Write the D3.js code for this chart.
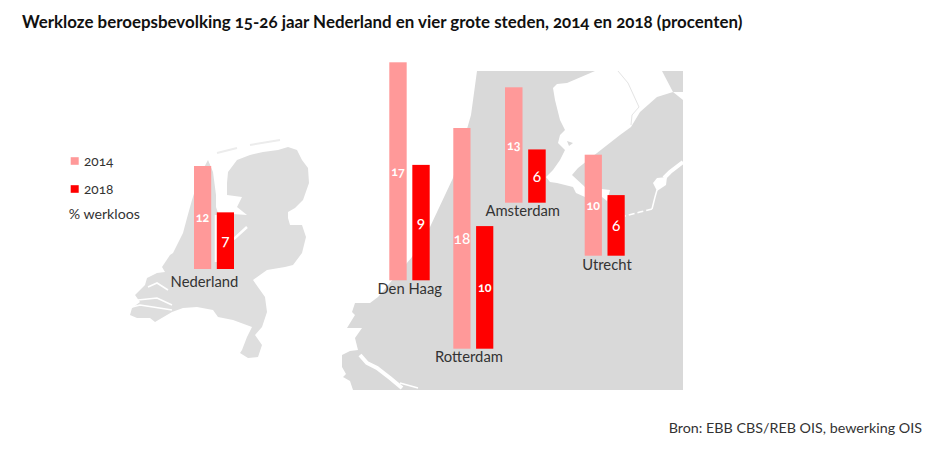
<!DOCTYPE html>
<html>
<head>
<meta charset="utf-8">
<script src="https://cdn.jsdelivr.net/npm/d3@7/dist/d3.min.js"></script>
<style>
html,body{margin:0;padding:0;background:#fff}
svg{display:block}
text{font-family:Lato,"Open Sans",sans-serif;font-variant-numeric:oldstyle-nums}
</style>
</head>
<body>
<svg id="chart" width="940" height="453"></svg>
<script>
// ---- data
const categories = ["Nederland", "Den Haag", "Rotterdam", "Amsterdam", "Utrecht"];
const years = ["2014", "2018"];
const values2014 = [12, 17, 18, 13, 10];
const values2018 = [6.6, 9, 10, 6, 6];
const titleText = "Werkloze beroepsbevolking 15-26 jaar Nederland en vier grote steden, 2014 en 2018 (procenten)";
const sourceText = "Bron: EBB CBS/REB OIS, bewerking OIS";
const unitText = "% werkloos";

// ---- layout: every bar pair sits freely on the map with its own height scale
const groupX0 = [194, 389.3, 453.3, 505, 584.7];
const groupX1 = [234, 429.7, 493.3, 545.7, 624.7];
const groupBase = [269, 280.3, 348.7, 202.7, 255.7];
const groupTop = [166, 62.3, 128, 87.3, 154.7];
const labelXY = [[204.5, 287], [409.7, 294], [469, 362], [522.7, 216], [607, 270]];

// ---- basemap outlines (decoration)
const nlOutline = [[208,160],[213,172],[216,195],[216,207],[218,213],[247,215],[237,207],[242,197],[227,195],[227,183],[228,172],[237,160],[250,155],[263,152],[278,150],[288,147],[297,150],[302,160],[308,168],[309,183],[303,200],[295,208],[288,212],[288,218],[290,225],[302,225],[306,237],[302,253],[293,265],[285,267],[267,270],[253,280],[265,297],[267,312],[262,327],[255,335],[262,345],[258,357],[248,358],[240,353],[242,350],[247,337],[252,327],[233,320],[218,317],[213,310],[197,307],[183,308],[172,312],[155,322],[150,318],[137,318],[130,315],[132,308],[140,302],[135,295],[145,285],[147,278],[157,273],[165,272],[162,267],[170,255],[173,253],[183,233],[187,218],[192,200],[200,175]];
const nlWater = [
  [[222,246],[235,238],[247,227]],
  [[216,215],[216,262]],
  [[172,305],[157,298],[138,300]],
  [[168,290],[157,283],[148,287]],
  [[172,310],[153,307],[140,305],[132,307]]
];
const nlIslands = [[[217,153],[237,148]],[[250,145],[280,140]]];
const zoomLand = [[477,71],[683,71],[683,390],[353,390],[350,381],[343,377],[346,374],[342,367],[342,355],[350,351],[358,350],[355,338],[362,328],[347,328],[355,315],[352,312],[355,303],[370,303],[378,297],[412,257],[430,227],[453,178],[471,115]];
const zoomInlet = [[595,71],[567,83],[557,84],[553,88],[555,100],[560,120],[565,130],[560,135],[558,143],[565,150],[560,160],[553,170],[546,177],[550,182],[557,183],[565,185],[573,187],[576,193],[585,197],[602,197],[607,201],[610,190],[585,187],[572,175],[578,168],[597,153],[620,135],[631,127],[640,112],[657,97],[673,92],[683,100],[683,92],[673,92],[662,71]];
const zoomIslet = [[567,141],[573,143],[569,146]];
const zoomRiverWide = [[[360,355],[367,363],[377,368],[390,378],[402,388]],[[683,162],[670,172],[664,178]]];
const zoomRiverThin = [[[400,383],[418,388]],[[657,190],[655,197],[652,209]]];
const zoomRiverDash = [[652,209],[640,212],[625,216]];
const zoomBlob = [[657,178],[667,177],[666,185],[657,191],[653,183]];
const zoomDike = [[618,71],[628,83],[639,107],[632,115],[631,125]];

const svg = d3.select("#chart");
const line = d3.line();
const closed = d3.line().curve(d3.curveLinearClosed);
const colour = d3.scaleOrdinal().domain(years).range(["#ff9999", "#ff0000"]);

// basemaps
svg.append("path").attr("d", closed(nlOutline)).attr("fill", "#dedede");
nlWater.forEach((p, i) => svg.append("path").attr("d", line(p)).attr("fill", "none")
  .attr("stroke", "#fff").attr("stroke-width", i < 2 ? 2.5 : 1.6));
nlIslands.forEach(p => svg.append("path").attr("d", line(p)).attr("fill", "none")
  .attr("stroke", "#ececec").attr("stroke-width", 2));

svg.append("path").attr("d", closed(zoomLand)).attr("fill", "#d9d9d9");
svg.append("path").attr("d", closed(zoomInlet)).attr("fill", "#fff");
svg.append("path").attr("d", closed(zoomIslet)).attr("fill", "#d9d9d9");
svg.append("path").attr("d", closed(zoomBlob)).attr("fill", "#fff");
zoomRiverWide.forEach(p => svg.append("path").attr("d", line(p)).attr("fill", "none").attr("stroke", "#fff").attr("stroke-width", 4));
zoomRiverThin.forEach(p => svg.append("path").attr("d", line(p)).attr("fill", "none").attr("stroke", "#fff").attr("stroke-width", 1.5));
svg.append("path").attr("d", line(zoomRiverDash)).attr("fill", "none").attr("stroke", "#fff").attr("stroke-width", 1.5).attr("stroke-dasharray", "6 3");
svg.append("path").attr("d", line(zoomDike)).attr("fill", "none").attr("stroke", "#e4e4e4").attr("stroke-width", 1);

// title and source
svg.append("text").attr("x", 22).attr("y", 28).attr("font-size", 16.9).attr("font-weight", 700).attr("fill", "#111").text(titleText);
svg.append("text").attr("x", 922).attr("y", 433).attr("text-anchor", "end").attr("font-size", 14.3).attr("fill", "#333").text(sourceText);

// legend
const legendY = d3.scalePoint().domain(years).range([161, 189]);
years.forEach(y => {
  svg.append("rect").attr("x", 70.7).attr("y", legendY(y) - 3.8).attr("width", 8).attr("height", 7.6).attr("fill", colour(y));
  svg.append("text").attr("x", 84).attr("y", legendY(y) + 4.6).attr("font-size", 13.6).attr("fill", "#333").text(y);
});
svg.append("text").attr("x", 68.7).attr("y", 219).attr("font-size", 14.2).attr("fill", "#333").text(unitText);

// bars
const fmt = d3.format(".0f");
categories.forEach((name, i) => {
  const x = d3.scaleBand().domain(years).range([groupX0[i], groupX1[i]]).paddingInner(0.245).paddingOuter(0);
  const y = d3.scaleLinear().domain([0, values2014[i]]).range([groupBase[i], groupTop[i]]);
  const rows = [{year: years[0], value: values2014[i]}, {year: years[1], value: values2018[i]}];
  const g = svg.append("g");
  g.selectAll("rect").data(rows).join("rect")
    .attr("x", d => x(d.year)).attr("width", x.bandwidth())
    .attr("y", d => y(d.value)).attr("height", d => y(0) - y(d.value))
    .attr("fill", d => colour(d.year));
  g.selectAll("text").data(rows).join("text")
    .attr("x", d => x(d.year) + x.bandwidth() / 2)
    .attr("y", d => (y(d.value) + y(0)) / 2)
    .attr("dy", "0.36em")
    .attr("text-anchor", "middle")
    .attr("fill", "#fff")
    .attr("font-size", d => (d.value < 10 || d.value === 18) ? 15.5 : 12.5)
    .attr("font-weight", d => (d.value < 10 || d.value === 18) ? 500 : 700)
    .text(d => fmt(d.value));
  svg.append("text").attr("x", labelXY[i][0]).attr("y", labelXY[i][1])
    .attr("text-anchor", "middle").attr("font-size", 14.8).attr("fill", "#333").text(name);
});
</script>
</body>
</html>
